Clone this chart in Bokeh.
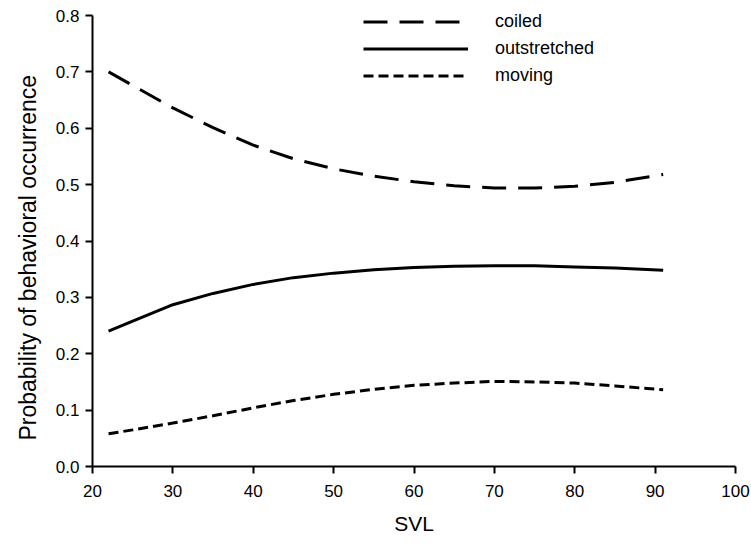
from bokeh.plotting import figure
from bokeh.models import Range1d, Legend, LegendItem, FixedTicker, Title
from bokeh.embed import file_html
from bokeh.resources import INLINE

svl = [22, 25, 30, 35, 40, 45, 50, 55, 60, 65, 70, 75, 80, 85, 91]
coiled = [0.700, 0.676, 0.636, 0.601, 0.570, 0.546, 0.528, 0.515, 0.505, 0.498, 0.494, 0.494, 0.497, 0.504, 0.518]
outstretched = [0.240, 0.258, 0.287, 0.307, 0.323, 0.335, 0.343, 0.349, 0.353, 0.355, 0.356, 0.356, 0.354, 0.352, 0.348]
moving = [0.058, 0.065, 0.077, 0.090, 0.104, 0.117, 0.128, 0.137, 0.144, 0.148, 0.151, 0.150, 0.148, 0.143, 0.136]

x_ticks = [20, 30, 40, 50, 60, 70, 80, 90, 100]
y_ticks = [0.0, 0.1, 0.2, 0.3, 0.4, 0.5, 0.6, 0.7, 0.8]

FONT = "Liberation Sans"

# frame spans pixel rows 0..466; value 0.8 sits at row 15
y_top = 0.8 * 466 / 451

p = figure(width=751, height=545, output_backend="svg", toolbar_location=None,
           x_range=Range1d(20, 100), y_range=Range1d(0, y_top),
           min_border_left=92, min_border_right=16, min_border_top=0, min_border_bottom=79)
p.outline_line_color = None
p.grid.visible = False
p.background_fill_color = "white"
p.border_fill_color = "white"

r1 = p.line(svl, coiled, line_color="black", line_width=3, line_dash="24 12")
r2 = p.line(svl, outstretched, line_color="black", line_width=3)
r3 = p.line(svl, moving, line_color="black", line_width=3, line_dash="10 5")

for ax in (p.xaxis[0], p.yaxis[0]):
    ax.axis_line_width = 2
    ax.major_tick_line_width = 2
    ax.major_tick_out = 7
    ax.major_tick_in = 0
    ax.minor_tick_line_color = None
    ax.major_label_text_font = FONT
    ax.major_label_text_font_size = "17px"
    ax.major_label_text_color = "black"
    ax.axis_label_text_font = FONT
    ax.axis_label_text_font_style = "normal"
    ax.axis_label_text_font_size = "21px"
    ax.axis_label_text_color = "black"

p.xaxis.ticker = FixedTicker(ticks=x_ticks)
p.yaxis.ticker = FixedTicker(ticks=y_ticks)
p.yaxis.bounds = (0, 0.8)
p.yaxis.major_label_overrides = {t: f"{t:.1f}" for t in y_ticks}
p.xaxis.major_label_overrides = {t: str(t) for t in x_ticks}
p.xaxis.axis_label = "SVL"
p.xaxis.major_label_standoff = 11
p.xaxis.axis_label_standoff = 12
p.yaxis.major_label_standoff = 6

ylab = Title(text="Probability of behavioral occurrence", align="left", offset=26,
             text_font=FONT, text_font_size="23px", text_font_style="normal",
             text_color="black", standoff=23)
p.add_layout(ylab, "left")

legend = Legend(items=[LegendItem(label="coiled", renderers=[r1]),
                       LegendItem(label="outstretched", renderers=[r2]),
                       LegendItem(label="moving", renderers=[r3])],
                location=(271, 378), orientation="vertical")
legend.border_line_color = None
legend.background_fill_alpha = 0
legend.padding = 0
legend.margin = 0
legend.spacing = 2
legend.glyph_width = 105
legend.glyph_height = 25
legend.label_standoff = 27
legend.label_text_font = FONT
legend.label_text_font_size = "18px"
legend.label_text_color = "black"
p.add_layout(legend, "center")

open("out.html", "w").write(file_html(p, INLINE))
